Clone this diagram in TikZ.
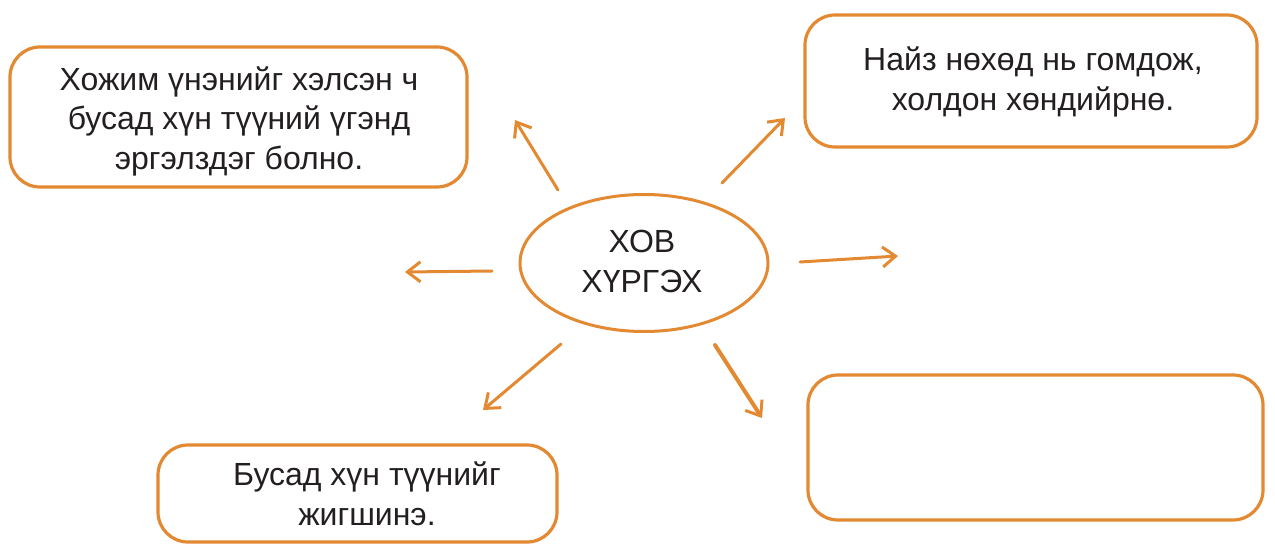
\documentclass[tikz,border=0pt]{standalone}
\usepackage{fontspec}
\setmainfont{Liberation Sans}
\usetikzlibrary{arrows.meta,shapes.geometric}
\definecolor{crayon}{RGB}{226,137,50}
\definecolor{ink}{RGB}{35,31,32}
\begin{document}
\begin{tikzpicture}[x=1pt,y=-1pt,
  box/.style={draw=crayon,line width=3.2pt,rounded corners=30pt,inner sep=0pt,fill=white},
  txt/.style={align=center,font=\fontsize{32}{39.5}\selectfont,text=ink,inner sep=0pt},
  arr/.style={draw=crayon,line width=3pt,line cap=round,-{Straight Barb[length=13pt,width=20pt,line width=3pt]}}]
\useasboundingbox (0,0) rectangle (1275,546);
% boxes
\node[box,minimum width=457,minimum height=140] (tl) at (238.5,117) {};
\node[box,minimum width=452,minimum height=132] (tr) at (1031,81) {};
\node[box,minimum width=399,minimum height=97] (bl) at (357.5,493.5) {};
\node[box,minimum width=455,minimum height=145] (br) at (1035.5,447.5) {};
% centre
\node[ellipse,draw=crayon,line width=3pt,minimum width=248,minimum height=137,inner sep=0pt] (c) at (644,263) {};
\node[txt] (ct) at (642,261.5) {ХОВ\\ХҮРГЭХ};
% texts
\node[txt] (tlt) at (239,121) {Хожим үнэнийг хэлсэн ч\\бусад хүн түүний үгэнд\\эргэлздэг болно.};
\node[txt] (trt) at (1033,82) {Найз нөхөд нь гомдож,\\холдон хөндийрнө.};
\node[txt] (blt) at (367,494) {Бусад хүн түүнийг\\жигшинэ.};
% arrow ends
\coordinate (a1s) at (558,190); \coordinate (a1e) at (515,120);
\coordinate (a2s) at (722,183); \coordinate (a2e) at (785,118);
\coordinate (a3s) at (492,271); \coordinate (a3e) at (405,272);
\coordinate (a4s) at (800,262); \coordinate (a4e) at (898,256);
\coordinate (a5s) at (561,344); \coordinate (a5e) at (483,410);
\coordinate (a6s) at (715,345); \coordinate (a6e) at (762,418);
\draw[arr] (a1s) -- (a1e);
\draw[arr] (a2s) -- (a2e);
\draw[arr] (a3s) -- (a3e);
\draw[arr] (a4s) -- (a4e);
\draw[arr] (a5s) -- (a5e);
\draw[arr,line width=4pt] (a6s) -- (a6e);
\end{tikzpicture}
\end{document}
